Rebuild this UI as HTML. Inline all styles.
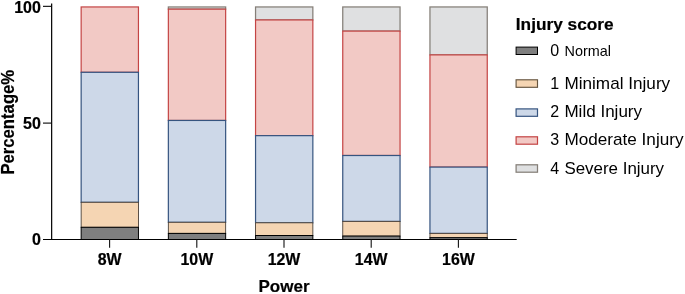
<!DOCTYPE html>
<html><head><meta charset="utf-8"><title>Injury score chart</title>
<style>
html,body{margin:0;padding:0;background:#fff;}
body{width:685px;height:294px;overflow:hidden;}
svg{display:block;}
text{font-family:"Liberation Sans",Arial,Helvetica,sans-serif;fill:#000;}
.b{font-weight:bold;stroke:#000;stroke-width:0.2px;}
</style></head><body>
<svg width="685" height="294" viewBox="0 0 685 294">
<rect width="685" height="294" fill="#fff"/>

<rect x="81.15" y="6.95" width="57.30" height="65.35" fill="#f2c9c5" stroke="#c44444" stroke-width="1.2"/>
<rect x="81.15" y="72.30" width="57.30" height="130.00" fill="#cdd8e8" stroke="#36547f" stroke-width="1.2"/>
<rect x="81.15" y="202.30" width="57.30" height="25.00" fill="#f5d5b3" stroke="#4a4038" stroke-width="0.9"/>
<rect x="81.15" y="227.30" width="57.30" height="12.20" fill="#7f7f7f" stroke="#000000" stroke-width="1.0"/>
<rect x="168.35" y="6.95" width="57.30" height="2.20" fill="#dfe0e1" stroke="#857f78" stroke-width="1.25"/>
<rect x="168.35" y="9.15" width="57.30" height="111.30" fill="#f2c9c5" stroke="#c44444" stroke-width="1.2"/>
<rect x="168.35" y="120.45" width="57.30" height="101.85" fill="#cdd8e8" stroke="#36547f" stroke-width="1.2"/>
<rect x="168.35" y="222.30" width="57.30" height="11.10" fill="#f5d5b3" stroke="#4a4038" stroke-width="0.9"/>
<rect x="168.35" y="233.40" width="57.30" height="6.10" fill="#7f7f7f" stroke="#000000" stroke-width="1.0"/>
<rect x="255.55" y="6.95" width="57.30" height="13.00" fill="#dfe0e1" stroke="#857f78" stroke-width="1.25"/>
<rect x="255.55" y="19.95" width="57.30" height="115.70" fill="#f2c9c5" stroke="#c44444" stroke-width="1.2"/>
<rect x="255.55" y="135.65" width="57.30" height="87.15" fill="#cdd8e8" stroke="#36547f" stroke-width="1.2"/>
<rect x="255.55" y="222.80" width="57.30" height="12.70" fill="#f5d5b3" stroke="#4a4038" stroke-width="0.9"/>
<rect x="255.55" y="235.50" width="57.30" height="4.00" fill="#7f7f7f" stroke="#000000" stroke-width="1.0"/>
<rect x="342.75" y="6.95" width="57.30" height="24.15" fill="#dfe0e1" stroke="#857f78" stroke-width="1.25"/>
<rect x="342.75" y="31.10" width="57.30" height="124.40" fill="#f2c9c5" stroke="#c44444" stroke-width="1.2"/>
<rect x="342.75" y="155.50" width="57.30" height="65.90" fill="#cdd8e8" stroke="#36547f" stroke-width="1.2"/>
<rect x="342.75" y="221.40" width="57.30" height="14.70" fill="#f5d5b3" stroke="#4a4038" stroke-width="0.9"/>
<rect x="342.75" y="236.10" width="57.30" height="3.40" fill="#7f7f7f" stroke="#000000" stroke-width="1.0"/>
<rect x="429.95" y="6.95" width="57.30" height="47.95" fill="#dfe0e1" stroke="#857f78" stroke-width="1.25"/>
<rect x="429.95" y="54.90" width="57.30" height="112.20" fill="#f2c9c5" stroke="#c44444" stroke-width="1.2"/>
<rect x="429.95" y="167.10" width="57.30" height="66.30" fill="#cdd8e8" stroke="#36547f" stroke-width="1.2"/>
<rect x="429.95" y="233.40" width="57.30" height="4.30" fill="#f5d5b3" stroke="#4a4038" stroke-width="0.9"/>
<rect x="429.95" y="237.70" width="57.30" height="1.80" fill="#7f7f7f" stroke="#000000" stroke-width="1.0"/>
<line x1="51.65" y1="3.4" x2="51.65" y2="240.1" stroke="#000" stroke-width="1.2"/>
<line x1="43" y1="239.5" x2="516.7" y2="239.5" stroke="#000" stroke-width="1.1"/>
<line x1="43" y1="6.35" x2="51.65" y2="6.35" stroke="#111" stroke-width="1.15"/>
<line x1="43" y1="123.1" x2="51.65" y2="123.1" stroke="#111" stroke-width="1.15"/>
<line x1="109.6" y1="239.5" x2="109.6" y2="247.8" stroke="#111" stroke-width="1.1"/>
<line x1="196.8" y1="239.5" x2="196.8" y2="247.8" stroke="#111" stroke-width="1.1"/>
<line x1="284.0" y1="239.5" x2="284.0" y2="247.8" stroke="#111" stroke-width="1.1"/>
<line x1="371.2" y1="239.5" x2="371.2" y2="247.8" stroke="#111" stroke-width="1.1"/>
<line x1="458.4" y1="239.5" x2="458.4" y2="247.8" stroke="#111" stroke-width="1.1"/>
<text class="b" x="40.9" y="12.85" font-size="16" text-anchor="end">100</text>
<text class="b" x="40.9" y="129.2" font-size="16" text-anchor="end">50</text>
<text class="b" x="40.9" y="245.25" font-size="16" text-anchor="end">0</text>
<text class="b" x="109.6" y="264.5" font-size="15.9" text-anchor="middle">8W</text>
<text class="b" x="196.8" y="264.5" font-size="15.9" text-anchor="middle">10W</text>
<text class="b" x="284.0" y="264.5" font-size="15.9" text-anchor="middle">12W</text>
<text class="b" x="371.2" y="264.5" font-size="15.9" text-anchor="middle">14W</text>
<text class="b" x="458.4" y="264.5" font-size="15.9" text-anchor="middle">16W</text>
<text class="b" x="284" y="292.2" font-size="17" text-anchor="middle">Power</text>
<text class="b" transform="translate(14.15,122.2) rotate(-90) scale(0.981,1.06)" font-size="17" text-anchor="middle">Percentage%</text>
<text class="b" x="515.8" y="29.6" font-size="17.25">Injury score</text>
<rect x="516.1" y="47.10" width="21.4" height="7.4" fill="#7f7f7f" stroke="#000000" stroke-width="1.0"/>
<text x="550.3" y="55.70" font-size="16">0</text>
<text x="564.6" y="55.6" font-size="14.4">Normal</text>
<rect x="516.1" y="79.80" width="21.4" height="7.5" fill="#f5d5b3" stroke="#66553f" stroke-width="1.15"/>
<text x="550.3" y="89.30" font-size="16">1</text>
<text x="564.45" y="89.2" font-size="17.15">Minimal Injury</text>
<rect x="516.1" y="108.90" width="21.4" height="7.4" fill="#cdd8e8" stroke="#36547f" stroke-width="1.2"/>
<text x="550.3" y="117.20" font-size="16">2</text>
<text x="564.45" y="117.1" font-size="17.05">Mild Injury</text>
<rect x="516.1" y="136.80" width="21.4" height="7.4" fill="#f2c9c5" stroke="#c44444" stroke-width="1.2"/>
<text x="550.3" y="145.00" font-size="16">3</text>
<text x="564.45" y="144.9" font-size="17.15">Moderate Injury</text>
<rect x="516.1" y="164.80" width="21.4" height="7.4" fill="#dfe0e1" stroke="#857f78" stroke-width="1.25"/>
<text x="550.3" y="173.80" font-size="16">4</text>
<text x="564.45" y="173.7" font-size="16.92">Severe Injury</text>
</svg></body></html>
